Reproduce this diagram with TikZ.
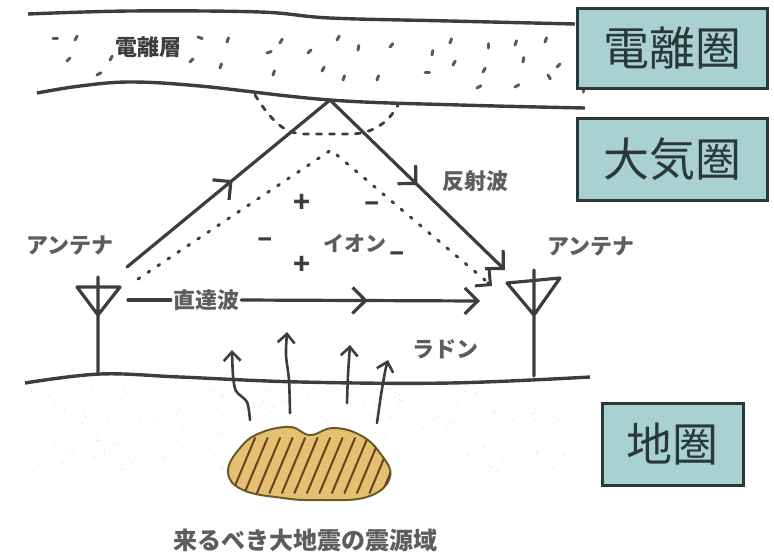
\documentclass[tikz,border=0pt]{standalone}
\usepackage{fontspec}
\setmainfont{Noto Sans CJK JP}
\usetikzlibrary{arrows.meta,decorations.markings,calc}

\definecolor{ink}{HTML}{3A3F3A}
\definecolor{pencil}{HTML}{5C5E5E}
\definecolor{zonefill}{HTML}{A9D1D1}
\definecolor{zoneline}{HTML}{2B3838}
\definecolor{quake}{HTML}{E3C171}
\definecolor{quakeline}{HTML}{6B5A2A}
\definecolor{hatch}{HTML}{6E3F1E}

\tikzset{
  zonebox/.style={draw=zoneline, line width=3pt, fill=zonefill, text=zoneline,
    font=\fontsize{46}{46}\selectfont, inner sep=0pt},
  hand/.style={text=pencil, font=\fontsize{22}{22}\selectfont\bfseries, inner sep=2pt},
  sign/.style={text=ink, font=\fontsize{28}{28}\selectfont\bfseries, inner sep=0pt},
  ray/.style={ink, line width=3.2pt, line cap=round, line join=round},
  barb/.style={-{Straight Barb[length=13pt,width=26pt]}},
  midbarb/.style={postaction={decorate}, decoration={markings,
    mark=at position #1 with {\arrow{Straight Barb[length=13pt,width=26pt]}}}},
  rise/.style={ray, line width=2.6pt, -{Straight Barb[length=9pt,width=17pt]}},
}

\begin{document}
\begin{tikzpicture}[x=1pt,y=-1pt]
\useasboundingbox (0,0) rectangle (774,558);

% ionosphere band
\draw[ink, line width=3.4pt] plot[smooth, tension=0.6] coordinates {(28,14) (130,11) (260,12) (330,18) (450,21) (575,24)};
\draw[ink, line width=3.4pt] plot[smooth, tension=0.6] coordinates {(37,93) (80,86) (130,82) (200,86) (330,100) (460,105) (585,108)};
\foreach \x/\y/\a in {53/38/0, 75/40/-60, 67/61/-45, 97/75/-30, 110/60/-60, 198/37/20,
  190/62/-45, 227/42/-70, 220/68/-70, 267/53/-20, 280/43/-60, 273/75/-70, 308/53/-45,
  322/71/-60, 337/40/-60, 343/80/-70, 358/50/-80, 377/80/-70, 390/47/-50,
  432/55/-80, 425/72/0, 450/43/-70, 453/65/-60, 477/88/-30, 483/72/-60, 488/48/-90,
  515/45/-70, 515/87/-30, 523/62/-80, 545/42/-70, 548/75/60, 557/67/-45, 583/92/-90}
  \draw[ink!85, line width=3pt, line cap=round] (\x,\y) -- ++(\a:4.5);
\node[hand, text=ink, font=\fontsize{22}{22}\selectfont\bfseries] (ionoLabel) at (148,47) {電離層};

% zone boxes
\node[zonebox, minimum width=190pt, minimum height=80pt] (ionoBox) at (672,48) {電離圏};
\node[zonebox, minimum width=190pt, minimum height=82pt] (atmoBox) at (672,159) {大気圏};
\node[zonebox, minimum width=141pt, minimum height=82pt] (geoBox) at (672.5,444) {地圏};

% ground
\pgfmathsetseed{7}
\foreach \i in {1,...,260} {
  \pgfmathsetmacro\sx{20+rnd*580}
  \pgfmathsetmacro\sy{387+rnd*85}
  \fill[black!10] (\sx,\sy) circle (0.8);
}
\draw[ink, line width=3.4pt] plot[smooth, tension=0.6] coordinates {(25,383) (100,374) (180,377) (300,382) (450,383) (590,377)};

% antennas
\draw[ray] (77,287) -- (120,287) -- (98,315) -- cycle (98,277) -- (98,374);
\draw[ray] (507,283) -- (560,278) -- (534,315) -- cycle (534,270) -- (534,376);
\node[hand] (antL) at (70,246) {アンテナ};
\node[hand] (antR) at (591,247) {アンテナ};

\coordinate (txTop) at (127,267);
\coordinate (bounce) at (330,100);
\coordinate (rxTop) at (505,270);
\coordinate (txDot) at (138,279);
\coordinate (apex) at (331,150);
\coordinate (rxDot) at (492,286);
\coordinate (rxDirect) at (480,301);

% reflected wave
\draw[ray, midbarb=0.52] (txTop) -- (bounce);
\draw[ray, barb, midbarb=0.5] (bounce) -- (rxTop);
\node[hand] (reflectLabel) at (475,181) {反射波};

% disturbed path through the ion layer
\draw[ink, line width=2.8pt, line cap=round, dash pattern=on 5pt off 8pt] (255,95) .. controls (272,122) and (285,134) .. (305,134) -- (350,134) .. controls (375,134) and (390,120) .. (398,105);
\draw[ink, line width=3pt, line cap=round, dash pattern=on 2pt off 10pt] (txDot) -- (apex) -- (rxDot);
\draw[ink, line width=3pt, line cap=round, -{Straight Barb[length=11pt,width=22pt]}] ($(rxDot)+(-4,-3.4)$) -- (rxDot);

% ions
\node[sign] (plusA) at (302,203) {+};
\node[sign] (plusB) at (302,265) {+};
\node[sign] (minusA) at (265,243) {–};
\node[sign] (minusB) at (372,207) {–};
\node[sign] (minusC) at (397,257) {–};
\node[hand, font=\fontsize{21}{21}\selectfont\bfseries] (ionLabel) at (355,243) {イオン};

% direct wave
\node[hand] (directLabel) at (206,300) {直達波};
\draw[ray] (128,300) -- (directLabel.west);
\draw[ray, barb, midbarb=0.53] (directLabel.east) -- (rxDirect);

% radon
\node[hand] (radonLabel) at (445,349) {ラドン};
\draw[rise] plot[smooth] coordinates {(250,420) (247,402) (236,391) (233,375) (232,350)};
\draw[rise] plot[smooth] coordinates {(290,413) (289,380) (286,355) (287,332)};
\draw[rise] plot[smooth] coordinates {(347,403) (348,375) (350,345)};
\draw[rise] plot[smooth] coordinates {(377,423) (381,395) (385,372) (388,360)};

% source region
\draw[quakeline, line width=2pt, fill=quake] plot[smooth cycle, tension=0.7] coordinates {(228,472) (240,448) (260,433) (290,427) (310,435) (333,428) (360,435) (380,453) (390,477) (367,497) (317,500) (283,498) (243,490)};
\begin{scope}
\clip plot[smooth cycle, tension=0.7] coordinates {(228,472) (240,448) (260,433) (290,427) (310,435) (333,428) (360,435) (380,453) (390,477) (367,497) (317,500) (283,498) (243,490)};
\foreach \k in {0,...,12}
  \draw[hatch, line width=2pt, line cap=round] (232+\k*12.5,493) -- ++(23,-55);
\end{scope}
\node[hand, font=\fontsize{24}{24}\selectfont\bfseries] (sourceLabel) at (305,540) {来るべき大地震の震源域};
\end{tikzpicture}
\end{document}
